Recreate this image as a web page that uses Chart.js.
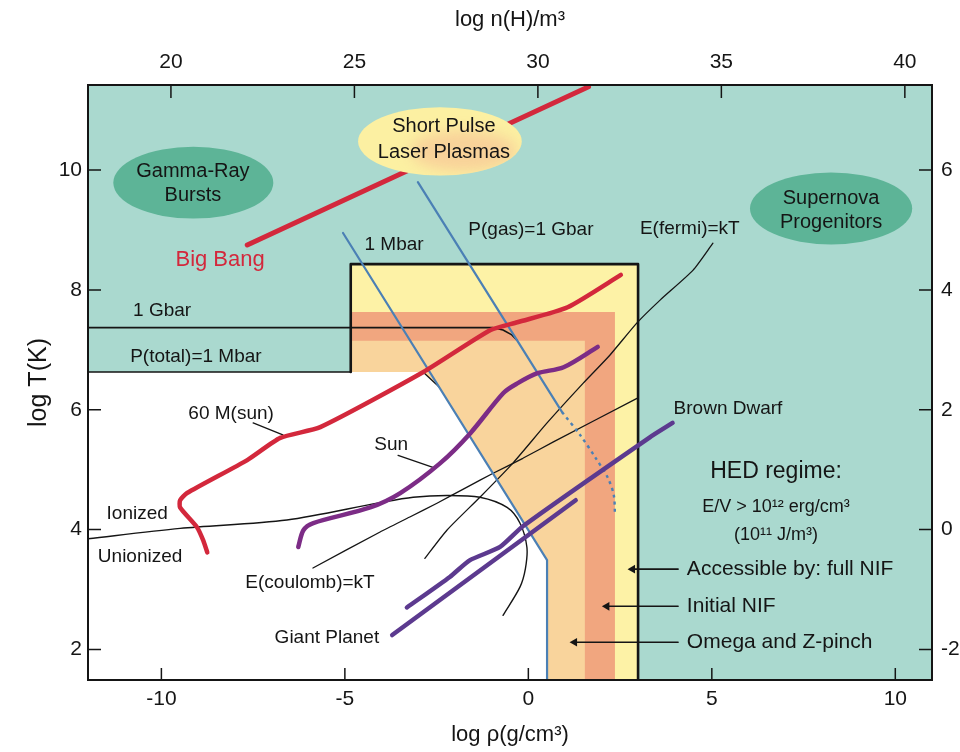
<!DOCTYPE html>
<html lang="en">
<head>
<meta charset="UTF-8">
<title>HED regime in the density - temperature plane</title>
<script src="https://cdn.jsdelivr.net/npm/chart.js"></script>
<style>
  body { margin: 0; background: #fff; }
  #chart { display: block; }
</style>
</head>
<body>

<canvas id="chart" width="960" height="752"></canvas>

<script>
// tick labels
var rhoTicks = [-10, -5, 0, 5, 10];
var nTicks = [20, 25, 30, 35, 40];
var tTicks = [2, 4, 6, 8, 10];
var rightTicks = [-2, 0, 2, 4, 6];

// curves, [log rho, log T]
var bigBang = [[-7.66, 8.75], [1.64, 11.39]];
var sixtyMsun = [[-8.75, 3.62], [-8.86, 3.82], [-9.03, 4.04], [-9.49, 4.37], [-9.49, 4.49], [-9.30, 4.61],
                 [-7.66, 5.16], [-6.76, 5.53], [-5.67, 5.71], [-2.86, 6.63], [-1.03, 7.33], [-0.30, 7.46],
                 [1.07, 7.71], [2.52, 8.25]];
var sun = [[-6.27, 3.71], [-6.13, 3.99], [-5.86, 4.11], [-4.31, 4.37], [-3.49, 4.61], [-2.40, 5.11],
           [-1.58, 5.61], [-0.68, 6.28], [-0.30, 6.44], [0.25, 6.61], [0.96, 6.71], [1.89, 7.05]];
var brownDwarf = [[-3.31, 2.70], [-2.14, 3.21], [-1.59, 3.49], [-0.77, 3.71], [-0.14, 4.06], [3.31, 5.54], [3.93, 5.78]];
var giantPlanet = [[-3.71, 2.24], [1.29, 4.49]];
var ionization = [[-12.1, 3.84], [-9.49, 4.02], [-6.58, 4.16], [-4.04, 4.45], [-3.14, 4.54], [-2.22, 4.57],
                  [-1.32, 4.54], [-0.58, 4.37], [-0.23, 4.11], [-0.04, 3.71], [-0.08, 3.35], [-0.23, 3.04], [-0.69, 2.57]];
var coulomb = [[-5.87, 3.36], [-4.04, 3.96], [-3.23, 4.21], [-2.49, 4.44], [-1.67, 4.71], [-0.96, 4.94],
               [-0.15, 5.19], [0.67, 5.46], [2.96, 6.19]];
var fermi = [[-2.82, 3.52], [-2.22, 3.99], [-1.32, 4.54], [-0.42, 5.11], [0.51, 5.78], [1.49, 6.44],
             [2.22, 6.91], [2.96, 7.45], [3.59, 7.83], [4.49, 8.33], [5.03, 8.78]];
var pMbar = [[-5.05, 8.95], [0.51, 3.49], [0.51, 1.4]];
var pGasGbar = [[-3.01, 9.80], [0.92, 5.96]];
var pGasGbarDotted = [[0.92, 5.96], [1.41, 5.58], [1.84, 5.19], [2.17, 4.86], [2.33, 4.57], [2.36, 4.24]];
var totalGbar = [[-12.1, 7.37], [-0.96, 7.37], [-0.69, 7.33], [-0.45, 7.25], [-0.31, 7.16]];
var totalMbar = [[-12.1, 6.63], [-4.84, 6.63]];
var totalMbarKink = [[-2.87, 6.63], [-2.43, 6.38]];
var sunLeader = [[-3.55, 5.24], [-2.60, 5.04]];
var sixtyLeader = [[-7.50, 5.78], [-6.69, 5.58]];

// regions
var fullNif = [[-4.84, 1.4], [-4.84, 8.43], [2.99, 8.43], [2.99, 1.4]];
var initialNif = [[-4.84, 1.4], [-4.84, 7.63], [2.36, 7.63], [2.36, 1.4]];
var omegaZ = [[-4.84, 1.4], [-4.84, 7.15], [1.54, 7.15], [1.54, 1.4]];
var unionized = [[-12.1, 1.4], [-12.1, 6.63], [-2.87, 6.63], [-2.43, 6.38], [0.51, 3.49], [0.51, 1.4]];
var hedEdge = [[-4.84, 6.63], [-4.84, 8.43], [2.99, 8.43], [2.99, 1.4]];

// key arrows, tail to head
var arrowFull = [[4.08, 3.34], [2.84, 3.34]];
var arrowInitial = [[4.08, 2.72], [2.14, 2.72]];
var arrowOmega = [[4.08, 2.12], [1.26, 2.12]];

// ovals: centre x, centre y, half width, half height (data units)
var blobs = [[-9.13, 9.79, 2.18, 0.60], [-2.41, 10.48, 2.23, 0.57], [8.25, 9.36, 2.21, 0.60]];

var notes = [
  ['Gamma-Ray', -9.14, 9.97, 'blob'], ['Bursts', -9.14, 9.57, 'blob'],
  ['Short Pulse', -2.30, 10.73, 'blob'], ['Laser Plasmas', -2.30, 10.30, 'blob'],
  ['Supernova', 8.25, 9.53, 'blob'], ['Progenitors', 8.25, 9.13, 'blob'],
  ['Big Bang', -8.40, 8.50, 'red'],
  ['1 Mbar', -3.66, 8.75, 'line'],
  ['P(gas)=1 Gbar', 0.07, 9.00, 'line'],
  ['E(fermi)=kT', 4.40, 9.02, 'line'],
  ['1 Gbar', -9.98, 7.65, 'line'],
  ['P(total)=1 Mbar', -9.06, 6.89, 'line'],
  ['60 M(sun)', -8.10, 5.94, 'line'],
  ['Sun', -3.74, 5.41, 'line'],
  ['Ionized', -10.66, 4.27, 'line'],
  ['Unionized', -10.58, 3.54, 'line'],
  ['E(coulomb)=kT', -5.95, 3.12, 'line'],
  ['Giant Planet', -5.49, 2.19, 'line'],
  ['Brown Dwarf', 5.44, 6.01, 'line'],
  ['HED regime:', 6.75, 4.97, 'head'],
  ['E/V > 10¹² erg/cm³', 6.75, 4.37, 'small'],
  ['(10¹¹ J/m³)', 6.75, 3.91, 'small'],
  ['Accessible by: full NIF', 4.32, 3.34, 'key'],
  ['Initial NIF', 4.32, 2.72, 'key'],
  ['Omega and Z-pinch', 4.32, 2.12, 'key']
];

var FONT = '"Liberation Sans", Arial, sans-serif';
var RED = '#d3283c', BLUE = '#4b80b5', PURPLE = '#7c2c86', VIOLET = '#5c3a8f', INK = '#151515';

function pts(arr) {
  return arr.map(function(p) { return {x: p[0], y: p[1]}; });
}

function curve(arr, color, width, order, extra) {
  var ds = {
    data: pts(arr),
    showLine: true,
    borderColor: color,
    borderWidth: width,
    borderCapStyle: 'round',
    borderJoinStyle: 'round',
    pointRadius: 0,
    fill: false,
    order: order
  };
  for (var k in extra) ds[k] = extra[k];
  return ds;
}

function region(arr, color, order) {
  return {
    data: pts(arr),
    showLine: true,
    borderColor: 'rgba(0,0,0,0)',
    borderWidth: 0,
    backgroundColor: color,
    pointRadius: 0,
    fill: 'shape',
    order: order
  };
}

function arrow(arr) {
  return curve(arr, INK, 1.6, 5, {
    pointRadius: [0, 5],
    pointStyle: 'triangle',
    pointRotation: -90,
    pointBackgroundColor: INK,
    pointBorderWidth: 0
  });
}

var datasets = [
  region(fullNif, '#fdf2a6', 30),
  region(initialNif, '#f1a67f', 29),
  region(omegaZ, '#f9d49c', 28),
  region(unionized, '#ffffff', 27),
  curve(hedEdge, INK, 2.6, 20),
  curve(totalGbar, INK, 1.6, 19),
  curve(totalMbar, INK, 1.6, 19),
  curve(totalMbarKink, INK, 1.3, 19),
  curve(ionization, INK, 1.4, 18, {tension: 0.3}),
  curve(coulomb, INK, 1.3, 18, {tension: 0.2}),
  curve(fermi, INK, 1.3, 18, {tension: 0.2}),
  curve(sunLeader, INK, 1.3, 18),
  curve(sixtyLeader, INK, 1.3, 18),
  curve(pMbar, BLUE, 2.2, 15),
  curve(pGasGbar, BLUE, 2.2, 15),
  curve(pGasGbarDotted, BLUE, 2.4, 15, {borderDash: [3, 4], borderCapStyle: 'butt', tension: 0.3}),
  curve(brownDwarf, VIOLET, 4.5, 12, {tension: 0.2}),
  curve(giantPlanet, VIOLET, 4.5, 12),
  curve(sun, PURPLE, 4.5, 11, {tension: 0.3}),
  curve(sixtyMsun, RED, 4.5, 10, {tension: 0.2}),
  curve(bigBang, RED, 5, 10),
  arrow(arrowFull),
  arrow(arrowInitial),
  arrow(arrowOmega)
];

var noteStyle = {
  blob: {size: 20, color: INK, align: 'center'},
  red: {size: 22, color: RED, align: 'center'},
  line: {size: 19, color: INK, align: 'center'},
  head: {size: 23, color: INK, align: 'center'},
  small: {size: 18, color: INK, align: 'center'},
  key: {size: 21, color: INK, align: 'left'}
};
var blobColors = ['#5db497', '#fcf0a2', '#5db497'];

var overlay = {
  id: 'overlay',
  beforeDraw: function(chart) {
    var a = chart.chartArea, ctx = chart.ctx;
    ctx.save();
    ctx.fillStyle = '#aad9cf';
    ctx.fillRect(a.left, a.top, a.right - a.left, a.bottom - a.top);
    ctx.restore();
  },
  afterDatasetsDraw: function(chart) {
    var ctx = chart.ctx, a = chart.chartArea, sc = chart.scales;
    var px = function(v) { return sc.x.getPixelForValue(v); };
    var py = function(v) { return sc.y.getPixelForValue(v); };

    ctx.save();
    ctx.beginPath();
    ctx.rect(a.left, a.top, a.right - a.left, a.bottom - a.top);
    ctx.clip();

    blobs.forEach(function(b, i) {
      var cx = px(b[0]), cy = py(b[1]);
      ctx.beginPath();
      ctx.ellipse(cx, cy, Math.abs(px(b[0] + b[2]) - cx), Math.abs(py(b[1] + b[3]) - cy), 0, 0, Math.PI * 2);
      ctx.fillStyle = blobColors[i];
      ctx.fill();
      if (i === 1) {
        // orange glow inside the laser plasma oval
        ctx.save();
        ctx.clip();
        ctx.filter = 'blur(7px)';
        ctx.beginPath();
        ctx.ellipse(px(b[0] + 0.65), py(b[1] - 0.16), Math.abs(px(b[0] + 1.45) - px(b[0])), Math.abs(py(b[1] + 0.34) - py(b[1])), 0, 0, Math.PI * 2);
        ctx.fillStyle = 'rgba(246,196,150,0.7)';
        ctx.fill();
        ctx.restore();
      }
    });

    notes.forEach(function(n) {
      var st = noteStyle[n[3]];
      ctx.font = st.size + 'px ' + FONT;
      ctx.fillStyle = st.color;
      ctx.textAlign = st.align;
      ctx.textBaseline = 'middle';
      ctx.fillText(n[0], px(n[1]), py(n[2]));
    });
    ctx.restore();

    // inward tick marks and frame
    ctx.save();
    ctx.strokeStyle = INK;
    ctx.lineWidth = 1.5;
    ctx.beginPath();
    sc.x.ticks.forEach(function(t) { var p = sc.x.getPixelForValue(t.value); ctx.moveTo(p, a.bottom); ctx.lineTo(p, a.bottom - 12); });
    sc.x2.ticks.forEach(function(t) { var p = sc.x2.getPixelForValue(t.value); ctx.moveTo(p, a.top); ctx.lineTo(p, a.top + 13); });
    sc.y.ticks.forEach(function(t) { var p = sc.y.getPixelForValue(t.value); ctx.moveTo(a.left, p); ctx.lineTo(a.left + 13, p); });
    sc.y2.ticks.forEach(function(t) { var p = sc.y2.getPixelForValue(t.value); ctx.moveTo(a.right, p); ctx.lineTo(a.right - 13, p); });
    ctx.stroke();
    ctx.lineWidth = 2;
    ctx.strokeRect(a.left, a.top, a.right - a.left, a.bottom - a.top);
    ctx.restore();
  }
};

function axis(position, min, max, ticks, size, pad, title) {
  var horizontal = position === 'top' || position === 'bottom';
  return {
    type: 'linear',
    position: position,
    min: min,
    max: max,
    grid: {display: false, drawTicks: false},
    border: {display: false},
    afterBuildTicks: function(s) {
      s.ticks = ticks.map(function(v) { return {value: v}; });
    },
    afterFit: function(s) {
      if (horizontal) s.height = size; else s.width = size;
    },
    ticks: {
      autoSkip: false,
      maxRotation: 0,
      minRotation: 0,
      padding: pad,
      color: INK,
      font: {family: FONT, size: 21}
    },
    title: title || {display: false}
  };
}

var ctx = document.getElementById('chart').getContext('2d');
var chart = new Chart(ctx, {
  type: 'scatter',
  data: { datasets: datasets },
  options: {
    responsive: false,
    animation: false,
    layout: { padding: 0 },
    plugins: {
      legend: { display: false },
      tooltip: { enabled: false }
    },
    scales: {
      x: axis('bottom', -12, 11, rhoTicks, 72, 7, {
        display: true, text: 'log ρ(g/cm³)', color: INK,
        font: {family: FONT, size: 22}, padding: {top: 0, bottom: 4}
      }),
      x2: axis('top', 17.74, 40.74, nTicks, 85, 10, {
        display: true, text: 'log n(H)/m³', color: INK,
        font: {family: FONT, size: 22}, padding: {top: 7, bottom: 0}
      }),
      y: axis('left', 1.49, 11.42, tTicks, 88, 6, {
        display: true, text: 'log T(K)', color: INK,
        font: {family: FONT, size: 25}, padding: {top: 24, bottom: 0}
      }),
      y2: axis('right', -2.51, 7.42, rightTicks, 28, 9)
    }
  },
  plugins: [overlay]
});
</script>

</body>
</html>
